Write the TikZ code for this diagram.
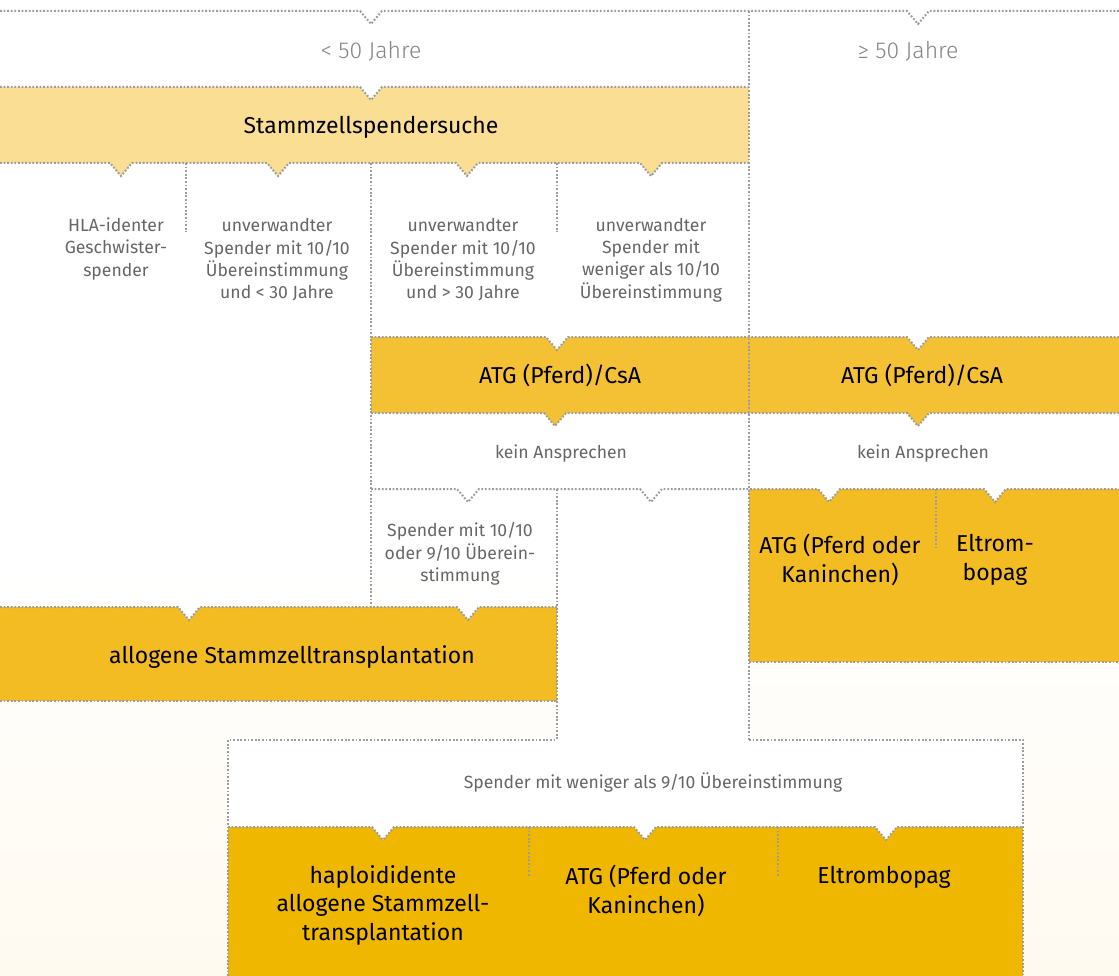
\documentclass[tikz,border=0pt]{standalone}
\usepackage{fontspec}
\setmainfont{Fira Sans}
\newfontfamily\lightfont{Fira Sans Light}
\definecolor{cream}{HTML}{FFFAF0}
\definecolor{ylight}{HTML}{F9DE93}
\definecolor{ymid}{HTML}{F4C134}
\definecolor{ydeep}{HTML}{F3BC22}
\definecolor{ydark}{HTML}{F0B701}
\definecolor{dotgray}{HTML}{9C9C9C}
\definecolor{txtgray}{HTML}{666666}
\definecolor{hdgray}{HTML}{858585}
\tikzset{
  dotl/.style={draw=dotgray, line width=2pt, dash pattern=on 1.8pt off 1.8pt},
  V/.style 2 args={insert path={-- ({#1-11},#2) -- (#1,{#2+13}) -- ({#1+11},#2)}},
  tri/.style n args={3}{insert path={({#1-11},#2) -- (#1,{#2+13}) -- ({#1+11},#2) -- cycle}},
  lbl/.style={font=\fontsize{17.6}{22.3}\selectfont, text=txtgray, align=center, inner sep=0pt},
  boxlbl/.style={font=\fontsize{23}{28.5}\selectfont, text=black, align=center, inner sep=0pt},
  hdr/.style={font=\lightfont\fontsize{23}{27}\selectfont, text=hdgray, inner sep=0pt}
}
\begin{document}
\begin{tikzpicture}[x=1pt,y=-1pt]
\useasboundingbox (0,0) rectangle (1119,976);
% background
\fill[white] (0,0) rectangle (1119,976);
\shade[top color=white, bottom color=cream] (0,560) rectangle (1119,976);
\fill[white] (557,489) rectangle (749,740);
\fill[white] (228,740) rectangle (1023,827);
% boxes
\fill[ylight] (0,87) rectangle (749,163);
\fill[ylight] [tri={121}{163}{}] [tri={278}{163}{}] [tri={467}{163}{}] [tri={651}{163}{}];
\fill[white] [tri={371}{87}{}];
\fill[ymid] (371,337) rectangle (1119,413);
\fill[ymid] [tri={555}{413}{}] [tri={918}{413}{}];
\fill[white] [tri={557}{337}{}] [tri={918}{337}{}];
\fill[ydeep] (749,489) rectangle (1119,662);
\fill[white] [tri={829}{489}{}] [tri={995}{489}{}];
\fill[ydeep] (0,607) rectangle (557,701);
\fill[white] [tri={189}{607}{}] [tri={468}{607}{}];
\fill[ydark] (228,827) rectangle (1023,976);
\fill[white] [tri={383}{827}{}] [tri={645}{827}{}] [tri={886}{827}{}];
% dotted lines
\draw[dotl] (0,11) [V={371}{11}] [V={918}{11}] -- (1119,11);
\draw[dotl] (749,11) -- (749,740);
\draw[dotl] (0,87) [V={371}{87}] -- (749,87);
\draw[dotl] (0,163) [V={121}{163}] [V={278}{163}] [V={467}{163}] [V={651}{163}] -- (749,163);
\draw[dotl] (186,163) -- (186,232);
\draw[dotl] (557,163) -- (557,232);
\draw[dotl] (371,163) -- (371,607);
\draw[dotl] (371,337) [V={557}{337}] -- (749,337) [V={918}{337}] -- (1119,337);
\draw[dotl] (371,413) [V={555}{413}] -- (749,413) [V={918}{413}] -- (1119,413);
\draw[dotl] (371,489) [V={468}{489}] [V={651}{489}] -- (749,489) [V={829}{489}] [V={995}{489}] -- (1119,489);
\draw[dotl] (557,489) -- (557,740);
\draw[dotl] (936,489) -- (936,548);
\draw[dotl] (749,662) -- (1119,662);
\draw[dotl] (0,607) [V={189}{607}] [V={468}{607}] -- (557,607);
\draw[dotl] (0,701) -- (557,701);
\draw[dotl] (228,976) -- (228,740) -- (557,740);
\draw[dotl] (749,740) -- (1023,740) -- (1023,976);
\draw[dotl] (228,827) [V={383}{827}] [V={645}{827}] [V={886}{827}] -- (1023,827);
\draw[dotl] (529,827) -- (529,877);
\draw[dotl] (778,827) -- (778,877);
% texts
\node[hdr] (young) at (371,51) {< 50 Jahre};
\node[hdr] (old) at (908,51) {≥ 50 Jahre};
\node[boxlbl] (search) at (371,127) {Stammzellspendersuche};
\node[lbl] (sib) at (116,249) {HLA-identer\\Geschwister-\\spender};
\node[lbl] (u1) at (277,260) {unverwandter\\Spender mit 10/10\\Übereinstimmung\\und < 30 Jahre};
\node[lbl] (u2) at (463,260) {unverwandter\\Spender mit 10/10\\Übereinstimmung\\und > 30 Jahre};
\node[lbl] (u3) at (651,260) {unverwandter\\Spender mit\\weniger als 10/10\\Übereinstimmung};
\node[boxlbl] (atg1) at (560,375) {ATG (Pferd)/CsA};
\node[boxlbl] (atg2) at (922,375) {ATG (Pferd)/CsA};
\node[lbl] (nr1) at (561,454) {kein Ansprechen};
\node[lbl] (nr2) at (923,454) {kein Ansprechen};
\node[lbl] (d109) at (460,554) {Spender mit 10/10\\oder 9/10 Überein-\\stimmung};
\node[boxlbl] (atg3) at (840,560) {ATG (Pferd oder\\Kaninchen)};
\node[boxlbl] (elt1) at (995,560) {Eltrom-\\bopag};
\node[boxlbl] (allo) at (292,657) {allogene Stammzelltransplantation};
\node[lbl] (less) at (653,783) {Spender mit weniger als 9/10 Übereinstimmung};
\node[boxlbl] (haplo) at (383,905) {haploididente\\allogene Stammzell-\\transplantation};
\node[boxlbl] (atg4) at (646,891) {ATG (Pferd oder\\Kaninchen)};
\node[boxlbl] (elt2) at (884,877) {Eltrombopag};
\end{tikzpicture}
\end{document}
